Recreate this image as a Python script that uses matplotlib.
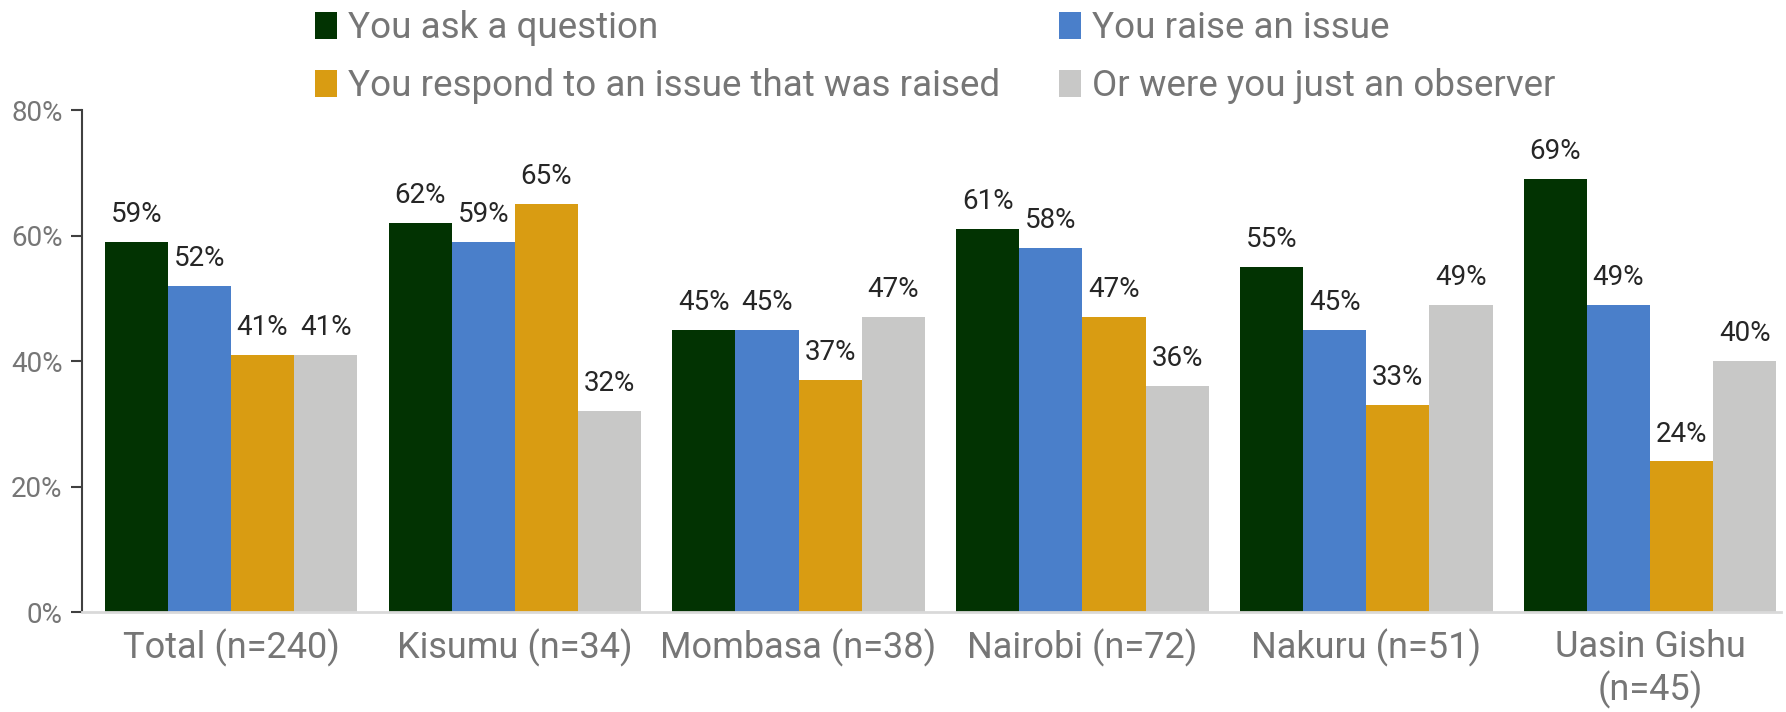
import numpy as np
import matplotlib
matplotlib.use("Agg")
import matplotlib.pyplot as plt
from matplotlib.ticker import PercentFormatter

plt.rcParams['font.family'] = ['Roboto', 'DejaVu Sans']

# Data
categories = ['Total (n=240)', 'Kisumu (n=34)', 'Mombasa (n=38)',
              'Nairobi (n=72)', 'Nakuru (n=51)', 'Uasin Gishu\n(n=45)']
series = ['You ask a question', 'You raise an issue',
          'You respond to an issue that was raised', 'Or were you just an observer']
ask = [59, 62, 45, 61, 55, 69]
raise_issue = [52, 59, 45, 58, 45, 49]
respond = [41, 65, 37, 47, 33, 24]
observer = [41, 32, 47, 36, 49, 40]
values = [ask, raise_issue, respond, observer]
colors = ['#023302', '#4a7fca', '#d99c12', '#c8c8c7']

fig = plt.figure(figsize=(17.86, 7.12), dpi=100)
ax = fig.add_axes([0.0459, 0.1404, 0.9511, 0.7051])

x = np.arange(len(categories))
w = 0.2225
handles = []
for i, (vals, col, name) in enumerate(zip(values, colors, series)):
    pos = x + (i - 1.5) * w
    bars = ax.bar(pos, np.array(vals) / 100, width=w, color=col, label=name)
    handles.append(bars)
    for b, v in zip(bars, vals):
        ax.annotate(f'{v}%', (b.get_x() + b.get_width() / 2, b.get_height()),
                    xytext=(0, 10), textcoords='offset points',
                    ha='center', va='bottom', fontsize=20, color='#262626')

ax.set_xlim(-0.525, 5.46)
ax.set_ylim(0, 0.8)
ax.set_yticks([0, 0.2, 0.4, 0.6, 0.8])
ax.yaxis.set_major_formatter(PercentFormatter(1.0, decimals=0))
ax.set_xticks(x)
ax.set_xticklabels(categories, fontsize=26, color='#767676')
ax.tick_params(axis='x', length=0, pad=12)
ax.tick_params(axis='y', length=8, width=1.5, color='#404040',
               labelsize=20, labelcolor='#767676', pad=6)

for s in ['top', 'right']:
    ax.spines[s].set_visible(False)
ax.spines['left'].set_color('#404040')
ax.spines['left'].set_linewidth(1.5)
ax.spines['bottom'].set_color('#d9d9d9')
ax.spines['bottom'].set_linewidth(2)

# legend fills row-wise in the reference
order = [0, 2, 1, 3]
fig.legend([handles[i] for i in order], [series[i] for i in order],
           loc='upper left', bbox_to_anchor=(0.166, 1.012), ncol=2,
           frameon=False, fontsize=26.5, handlelength=0.6, handleheight=0.75,
           handletextpad=0.3, columnspacing=1.6, labelspacing=0.6,
           labelcolor='#767676', borderpad=0)

fig.savefig('out.png', dpi=100)
